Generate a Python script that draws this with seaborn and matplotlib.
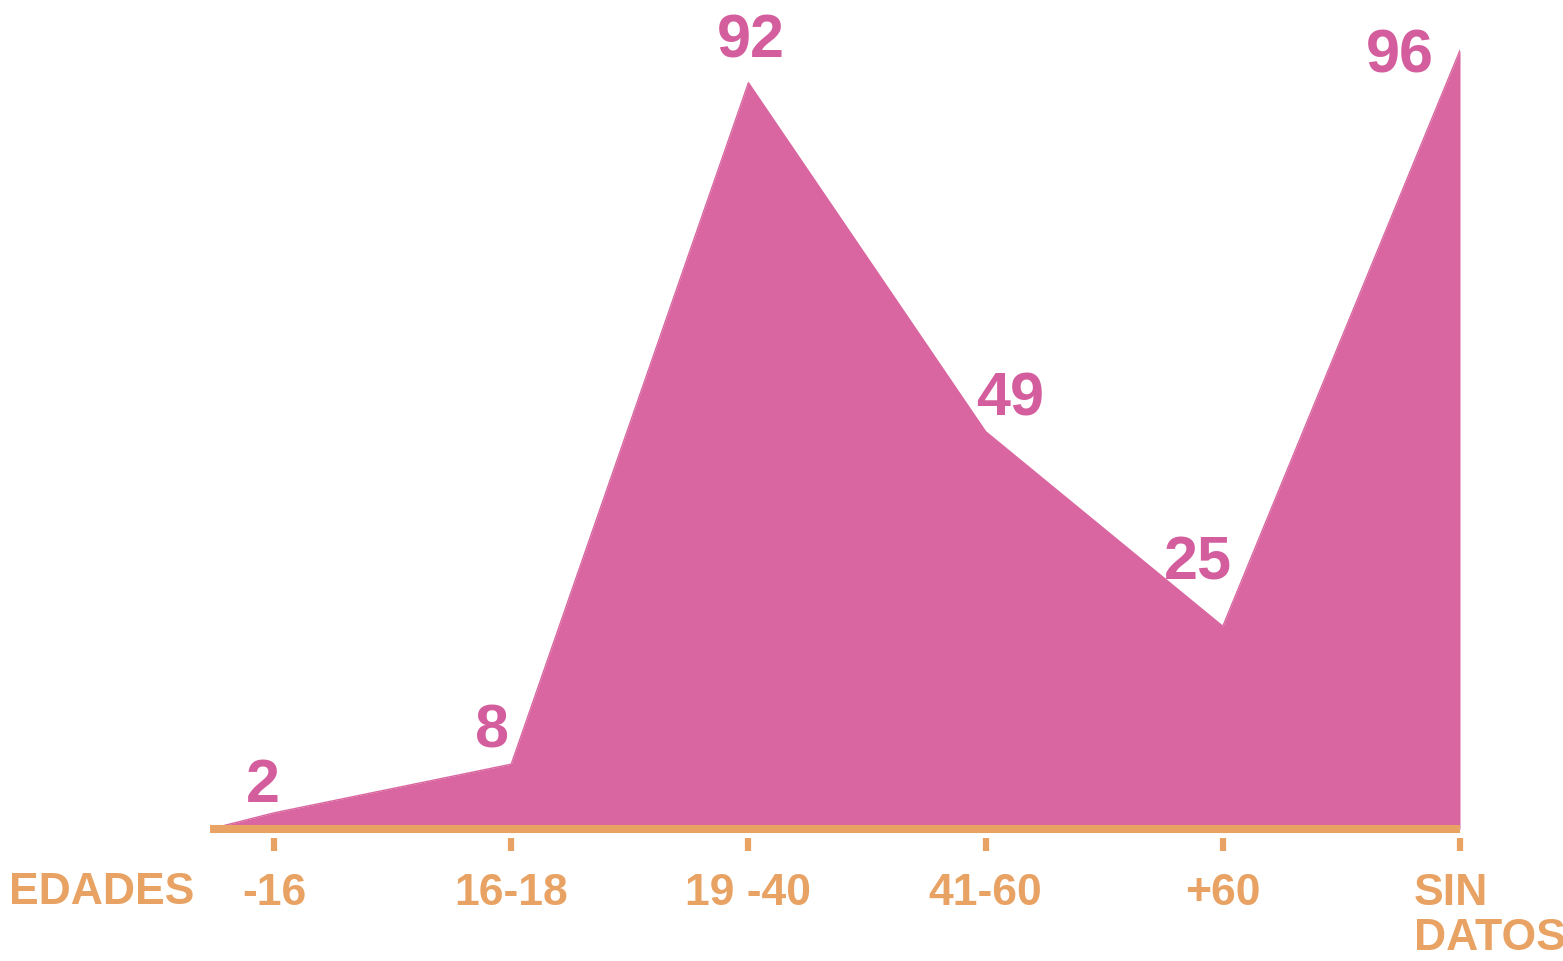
import matplotlib
matplotlib.use("Agg")
import matplotlib.pyplot as plt
from matplotlib.transforms import ScaledTranslation
import seaborn as sns
import pandas as pd

# ---- data ----
categories = ["-16", "16-18", "19 -40", "41-60", "+60", "SIN\nDATOS"]
values = [2, 8, 92, 49, 25, 96]
axis_title = "EDADES"

# ---- style ----
PINK = "#D966A0"
PINK_TXT = "#D45E9D"
ORANGE = "#E8A263"
FONT = ["Liberation Sans", "DejaVu Sans"]
WEIGHT = "bold"

sns.set_theme(style="white")
plt.rcParams["font.family"] = FONT

fig = plt.figure(figsize=(15.63, 9.61), dpi=100)
ax = fig.add_axes([210 / 1563, (961 - 838) / 961, (1460 - 210) / 1563, 838 / 961])

pos = list(range(len(categories)))
start_pad = 0.27
xs = [pos[0] - start_pad] + pos
ys = [0] + values
df = pd.DataFrame({"x": xs, "y": ys})

ax.fill_between(df["x"], df["y"], 0, color=PINK, linewidth=0, zorder=2)
sns.lineplot(data=df, x="x", y="y", color=PINK, linewidth=1, ax=ax, zorder=2)

# orange baseline
ax.hlines(0, xs[0], pos[-1], color=ORANGE, linewidth=5.8, zorder=3)

ax.set_xlim(xs[0], pos[-1])
ax.set_ylim(-1.1, 102.2)

for s in ax.spines.values():
    s.set_visible(False)
ax.set_yticks([])
ax.set_xticks(pos)
ax.set_xticklabels(categories)
ax.set_xlabel("")
ax.set_ylabel("")
ax.tick_params(axis="x", bottom=True, direction="out", length=9, width=4.5,
               color=ORANGE, pad=16, labelsize=32, labelcolor=ORANGE)
for lbl in ax.get_xticklabels():
    lbl.set_fontweight(WEIGHT)
    lbl.set_linespacing(1.12)
last = ax.get_xticklabels()[-1]
last.set_horizontalalignment("left")
last.set_multialignment("left")
last.set_transform(last.get_transform() + ScaledTranslation(-46 / 100, 0, fig.dpi_scale_trans))

# value labels
label_offsets = [(-8, 19), (-14, 23), (2, 29), (18, 23), (-18, 45), (-43, -5)]
for x, v, off in zip(pos, values, label_offsets):
    ax.annotate(str(v), xy=(x, v), xytext=off, textcoords="offset points",
                ha="center", va="center", fontsize=44, fontweight=WEIGHT,
                color=PINK_TXT, annotation_clip=False, zorder=4)

fig.text(102 / 1563, 1 - 893 / 961, axis_title, ha="center", va="center",
         fontsize=32, fontweight=WEIGHT, color=ORANGE)

fig.savefig("out.png", dpi=100, facecolor="white")
